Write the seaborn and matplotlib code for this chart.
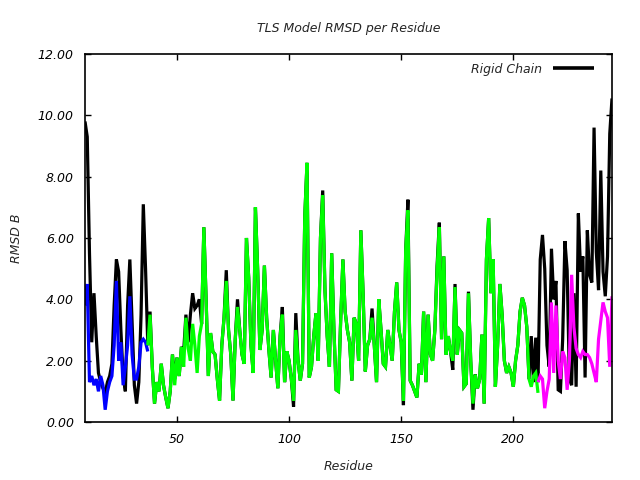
import numpy as np
import pandas as pd
import matplotlib
matplotlib.use("Agg")
import matplotlib.pyplot as plt
import seaborn as sns
from matplotlib.lines import Line2D

# ---------------- data ----------------
res_start, res_end = 9, 244

rigid_chain = [
    9.8, 9.3, 5.5, 2.6, 4.2, 2.8, 1.6, 1.3, 1.1, 0.95, 1.3, 1.5, 1.9, 3.8, 5.3, 4.9, 3.0, 1.5, 1.0, 3.8,
    5.3, 3.2, 1.2, 0.6, 1.3, 3.5, 7.1, 5.0, 2.5,
    3.6, 1.8, 0.6, 1.3, 1.0, 1.9, 1.2, 0.8, 0.45,
    1.0, 2.2, 1.4, 2.1, 1.5, 2.45, 2.3, 3.5, 2.6, 3.5,
    4.2, 3.7, 3.8, 4.0, 3.2, 6.35, 4.0, 1.5, 2.9, 2.3,
    2.2, 1.4, 0.7, 2.5, 3.4, 4.95, 3.0, 2.2, 0.7, 2.7,
    4.0, 3.0, 2.2, 1.9, 6.0, 4.7, 2.5, 1.6, 7.0, 4.95,
    2.35, 3.0, 5.1, 3.4, 2.35, 1.45, 3.0, 2.0, 1.1, 2.8,
    3.75, 1.3, 2.3, 2.0, 1.4, 0.5, 3.55, 2.0, 1.35, 1.9,
    6.7, 8.45, 1.45, 1.8, 2.8, 3.55, 2.0, 6.0, 7.55, 4.3,
    2.8, 1.8, 5.5, 3.0, 1.05, 1.0, 3.3, 5.3, 3.6, 3.0,
    2.6, 1.35, 3.4, 3.2, 2.0, 6.25, 4.2, 1.65, 2.5, 2.7,
    3.7, 2.5, 1.3, 4.0, 3.0, 1.9, 1.8, 3.0, 2.5, 2.0,
    3.6, 4.55, 3.0, 2.6, 0.55, 5.6, 7.25, 1.35, 1.2, 1.0,
    0.8, 1.9, 1.55, 3.6, 1.3, 3.5, 2.2, 2.0, 3.0, 5.1,
    6.5, 2.7, 5.4, 2.2, 2.8, 2.3, 1.7, 4.5, 2.2, 3.0,
    2.9, 1.15, 1.25, 4.25, 2.0, 0.4, 1.55, 1.1, 1.4, 2.85,
    0.6, 5.3, 6.65, 4.2, 5.3, 1.15, 2.5, 4.5, 3.5, 2.0,
    1.6, 1.8, 1.6, 1.15, 2.0, 2.5, 3.6, 4.05, 3.8, 3.1,
    1.4, 2.8, 1.3, 2.75, 1.3,
    5.3, 6.1, 5.0, 2.5, 1.8, 5.65, 4.0, 4.6, 1.05, 1.0,
    2.7, 5.9, 4.95, 1.4, 1.2, 4.2, 1.15, 6.8, 4.9, 5.4,
    1.45, 6.25, 4.8, 4.55, 9.6, 5.55, 4.3, 8.2, 4.9, 4.1,
    5.4, 9.4, 10.55,
]

seg_blue_start, seg_blue_end = 9, 37
seg_blue = [
    3.8, 4.5, 1.3, 1.5, 1.2, 1.4, 1.0, 1.5, 1.2, 0.4, 1.0, 1.3, 1.5, 2.5, 4.6, 2.0, 2.6, 1.2, 1.8, 2.5,
    4.1, 2.2, 1.4, 1.4, 1.8, 2.6, 2.7, 2.6, 2.3,
]

seg_green_start, seg_green_end = 37, 211
seg_green = [
    2.5, 3.5, 1.8, 0.6, 1.3, 1.0, 1.9, 1.2, 0.8, 0.45,
    1.0, 2.2, 1.2, 2.1, 1.5, 2.45, 1.8, 3.4, 2.4, 2.0,
    3.2, 2.5, 1.6, 2.8, 3.2, 6.35, 4.0, 1.5, 2.9, 2.3,
    2.2, 1.4, 0.7, 2.5, 3.4, 4.6, 3.0, 2.2, 0.7, 2.7,
    3.75, 3.0, 2.2, 1.9, 6.0, 4.7, 2.5, 1.6, 7.0, 4.95,
    2.35, 3.0, 5.1, 3.4, 2.35, 1.45, 3.0, 2.0, 1.1, 2.8,
    3.5, 1.3, 2.3, 2.0, 1.4, 0.7, 3.0, 2.0, 1.35, 1.9,
    6.7, 8.45, 1.45, 1.8, 2.8, 3.55, 2.0, 6.0, 7.4, 4.3,
    2.8, 1.8, 5.5, 3.0, 1.05, 1.0, 3.3, 5.3, 3.6, 3.0,
    2.6, 1.35, 3.4, 3.2, 2.0, 6.25, 4.2, 1.65, 2.5, 2.7,
    3.4, 2.5, 1.3, 4.0, 3.0, 1.9, 1.8, 3.0, 2.5, 2.0,
    3.6, 4.55, 3.0, 2.6, 0.7, 5.6, 6.9, 1.35, 1.2, 1.0,
    0.8, 1.9, 1.55, 3.6, 1.3, 3.5, 2.2, 2.0, 3.0, 4.95,
    6.35, 2.7, 5.4, 2.2, 2.8, 2.3, 2.0, 4.4, 2.2, 3.0,
    2.9, 1.15, 1.25, 4.2, 2.0, 0.6, 1.55, 1.1, 1.4, 2.85,
    0.6, 5.3, 6.65, 4.2, 5.3, 1.15, 2.5, 4.5, 3.5, 2.0,
    1.6, 1.8, 1.6, 1.15, 2.0, 2.5, 3.6, 4.05, 3.8, 3.1,
    1.4, 1.15, 1.5, 1.6, 0.95,
]

seg_magenta_start, seg_magenta_end = 211, 244
seg_magenta = [
    1.3, 1.5, 1.4, 0.45, 1.0, 1.4, 3.9, 1.6, 3.8, 2.0,
    1.4, 2.3, 2.1, 1.05, 2.0, 4.8, 3.1, 2.4, 2.2, 2.1,
    2.3, 2.2, 2.2, 2.1, 1.9, 1.6, 1.3, 2.7, 3.3, 3.9,
    3.6, 3.4, 1.8, 4.1,
]

y_ticks = [0, 2, 4, 6, 8, 10, 12]
x_ticks = [50, 100, 150, 200]

# ---------------- style ----------------
sns.set_theme(style="ticks")
plt.rcParams["font.family"] = ["DejaVu Sans"]
plt.rcParams["font.style"] = "italic"
plt.rcParams["xtick.direction"] = "in"
plt.rcParams["ytick.direction"] = "in"
plt.rcParams["lines.solid_joinstyle"] = "miter"
plt.rcParams["lines.solid_capstyle"] = "butt"

fig = plt.figure(figsize=(6.4, 4.8), dpi=100)
ax = fig.add_axes([85 / 640, 1 - 422 / 480, (612 - 85) / 640, (422 - 54) / 480])

def frame(start, end, vals):
    return pd.DataFrame({"res": np.arange(start, end + 1), "rmsd": vals})

lw = 2.3
series = [
    (res_start, res_end, rigid_chain, "#000000"),
    (seg_blue_start, seg_blue_end, seg_blue, "#0000ff"),
    (seg_green_start, seg_green_end, seg_green, "#00ff00"),
    (seg_magenta_start, seg_magenta_end, seg_magenta, "#ff00ff"),
]
for s0, s1, vals, col in series:
    sns.lineplot(data=frame(s0, s1, vals), x="res", y="rmsd",
                 color=col, linewidth=lw, ax=ax, legend=False)
for ln in ax.get_lines():
    ln.set_solid_joinstyle("miter")
    ln.set_solid_capstyle("butt")

ax.set_xlim(res_start, res_end)
ax.set_ylim(0, 12)
ax.set_xticks(x_ticks)
ax.set_xticklabels([str(t) for t in x_ticks])
ax.set_yticks(y_ticks)
ax.set_yticklabels([f"{t:.2f}" for t in y_ticks])
ax.tick_params(axis="both", which="both", direction="in", length=4.5, width=1,
               top=True, right=True, labelsize=9, colors="black")
ax.tick_params(axis="x", pad=8)
ax.tick_params(axis="y", pad=8)
for s in ax.spines.values():
    s.set_color("black")
    s.set_linewidth(1.2)
    s.set_visible(True)

ax.set_xlabel("Residue", fontsize=9, fontstyle="italic", labelpad=10)
ax.set_ylabel("RMSD B", fontsize=9, fontstyle="italic", labelpad=11)
ax.set_title("TLS Model RMSD per Residue", fontsize=9, fontstyle="italic", pad=16)

handle = Line2D([], [], color="black", linewidth=2.6, solid_capstyle="butt")
leg = ax.legend([handle], ["Rigid Chain"], loc="upper right", frameon=False,
                markerfirst=False, handlelength=3.3, fontsize=9,
                bbox_to_anchor=(1 - 9 / 527, 1.0),
                borderaxespad=0.3, handletextpad=0.9)

fig.savefig("out.png", dpi=100)
